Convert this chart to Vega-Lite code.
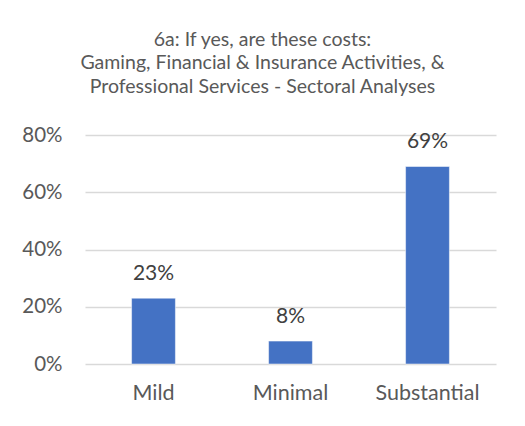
{
  "$schema": "https://vega.github.io/schema/vega-lite/v6.json",
  "autosize": "none",
  "width": 411,
  "height": 229,
  "padding": {"left": 85, "top": 135, "right": 29, "bottom": 62},
  "background": "white",
  "title": {
    "text": ["6a: If yes, are these costs:", "Gaming, Financial & Insurance Activities, &", "Professional Services - Sectoral Analyses"],
    "anchor": "middle",
    "dx": -28,
    "offset": 28,
    "font": "Lato",
    "fontSize": 19.5,
    "fontWeight": "normal",
    "color": "#595959",
    "lineHeight": 23.5
  },
  "data": {
    "values": [
      {"category": "Mild", "share": 0.23},
      {"category": "Minimal", "share": 0.08},
      {"category": "Substantial", "share": 0.69}
    ]
  },
  "encoding": {
    "x": {
      "field": "category",
      "type": "nominal",
      "sort": null,
      "scale": {"paddingInner": 0.68, "paddingOuter": 0.34},
      "axis": {
        "title": null,
        "labelAngle": 0,
        "domain": false,
        "ticks": false,
        "labelPadding": 18,
        "labelFont": "Lato",
        "labelFontSize": 21.5,
        "labelColor": "#595959"
      }
    },
    "y": {
      "field": "share",
      "type": "quantitative",
      "scale": {"domain": [0, 0.8]},
      "axis": {
        "title": null,
        "format": ".0%",
        "values": [0, 0.2, 0.4, 0.6, 0.8],
        "domain": false,
        "ticks": false,
        "labelPadding": 23,
        "labelFont": "Lato",
        "labelFontSize": 20.5,
        "labelColor": "#595959",
        "gridColor": "#d9d9d9",
        "gridWidth": 1.5
      }
    }
  },
  "layer": [
    {"mark": {"type": "bar", "color": "#4472C4", "stroke": "#ffffff", "strokeWidth": 0.5}},
    {
      "mark": {"type": "text", "baseline": "alphabetic", "dy": -18, "font": "Lato", "fontSize": 21, "color": "#404040"},
      "encoding": {"text": {"field": "share", "type": "quantitative", "format": ".0%"}}
    }
  ],
  "config": {"view": {"stroke": null}}
}
